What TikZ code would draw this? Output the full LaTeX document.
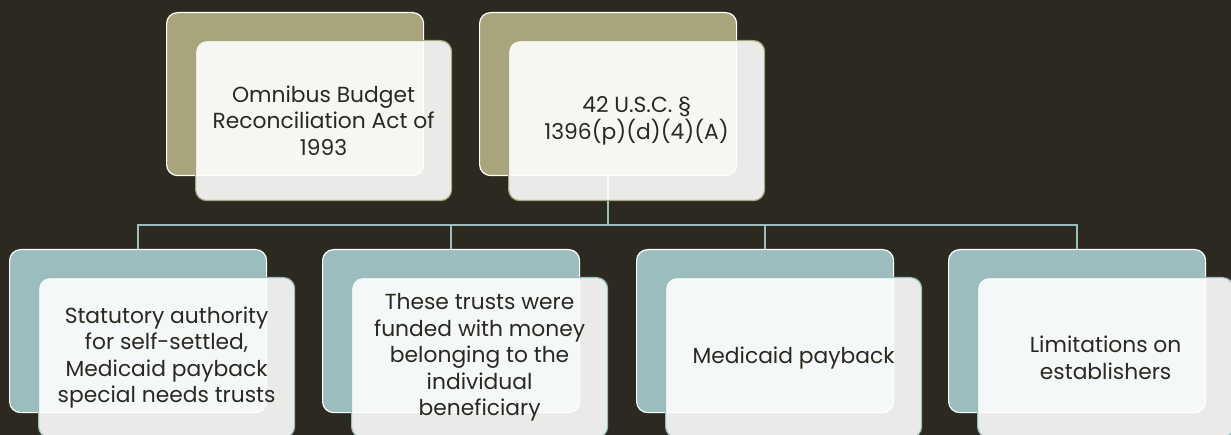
\documentclass[tikz,border=0pt]{standalone}
\usepackage{fontspec}
\setmainfont{Poppins}
\definecolor{bgc}{HTML}{2C2920}
\definecolor{olive}{HTML}{A8A47C}
\definecolor{teal}{HTML}{9BBDBE}
\definecolor{txt}{HTML}{2A2820}
\tikzset{
  backbox/.style={draw=white, line width=1.2pt, rounded corners=11pt, anchor=north west,
     minimum width=257pt, minimum height=163pt, inner sep=0pt},
  frontbox/.style={fill=white, fill opacity=0.9, text opacity=1, line width=1.2pt, rounded corners=11pt,
     anchor=north west, minimum width=256pt, minimum height=160pt, inner sep=0pt,
     align=center, text=txt, font=\fontsize{21.8}{26.5}\selectfont},
  conn/.style={draw=teal, line width=1.6pt}
}
\begin{document}
\begin{tikzpicture}[x=1pt,y=-1pt]
\fill[bgc] (0,0) rectangle (1231,435);
\useasboundingbox (0,0) rectangle (1231,435);
% back boxes (top)
\node[backbox, fill=olive] (b1) at (166,12) {};
\node[backbox, fill=olive] (b2) at (479,12) {};
% back boxes (bottom)
\node[backbox, fill=teal] (c1) at (9,249) {};
\node[backbox, fill=teal] (c2) at (322,249) {};
\node[backbox, fill=teal] (c3) at (636,249) {};
\node[backbox, fill=teal] (c4) at (948,249) {};
% connectors
\draw[conn] (b2.south) -- (b2.south |- 0,225) coordinate (hm);
\draw[conn] (c1.north) -- (c1.north |- 0,225) -- (c4.north |- 0,225) -- (c4.north);
\draw[conn] (c2.north) -- (c2.north |- 0,225);
\draw[conn] (c3.north) -- (c3.north |- 0,225);
% front boxes
\node[frontbox, draw=olive] (f1) at (195,40) {Omnibus Budget\\Reconciliation Act of\\1993};
\node[frontbox, draw=olive] (f2) at (508,40) {42 U.S.C. §\\1396(p)(d)(4)(A)};
\node[frontbox, draw=teal] (g1) at (38,277) {Statutory authority\\for self-settled,\\Medicaid payback\\special needs trusts};
\node[frontbox, draw=teal] (g2) at (351,277) {These trusts were\\funded with money\\belonging to the\\individual\\beneficiary};
\node[frontbox, draw=teal] (g3) at (665,277) {Medicaid payback};
\node[frontbox, draw=teal] (g4) at (977,277) {Limitations on\\establishers};
\end{tikzpicture}
\end{document}
